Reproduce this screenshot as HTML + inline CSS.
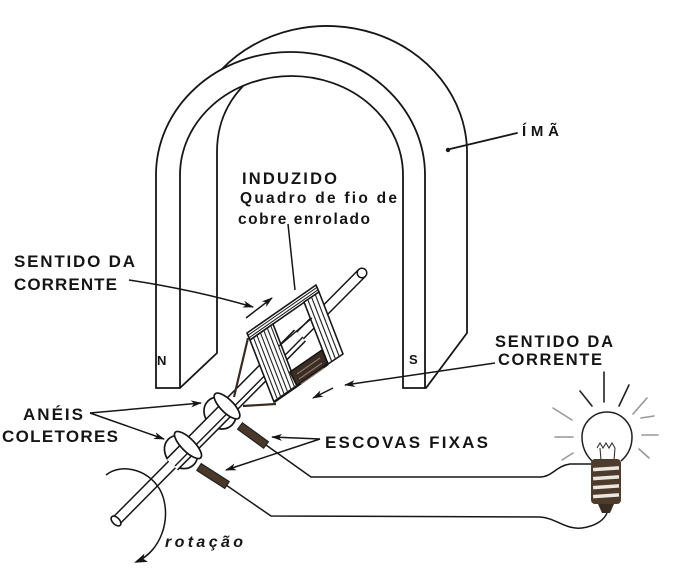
<!DOCTYPE html>
<html><head><meta charset="utf-8"><style>
html,body{margin:0;padding:0;background:#fff;}
svg{display:block;}
text{font-family:"Liberation Sans",sans-serif;font-weight:bold;fill:#151515;}
</style></head><body>
<svg width="687" height="581" viewBox="0 0 687 581" xmlns="http://www.w3.org/2000/svg">
<defs>
<marker id="ah" markerUnits="userSpaceOnUse" markerWidth="11" markerHeight="7" refX="10" refY="3.5" orient="auto" viewBox="0 0 11 7"><path d="M0,0 L11,3.5 L0,7 L3,3.5 z" fill="#151515"/></marker>
<marker id="ah2" markerUnits="userSpaceOnUse" markerWidth="13" markerHeight="9" refX="11" refY="4.5" orient="auto" viewBox="0 0 13 9"><path d="M0,0 L13,4.5 L0,9 L3,4.5 z" fill="#151515"/></marker>
</defs>
<rect width="687" height="581" fill="#fff"/>

<!-- magnet -->
<g fill="none" stroke="#161616" stroke-width="1.8" stroke-linejoin="round" stroke-linecap="round">
<path d="M156,388 L156,175 A134.5,123 0 0 1 425,175 L425,388"/>
<path d="M180,388 L180,175 A111.5,99 0 0 1 403,175 L403,388"/>
<path d="M156,388 L180,388 M403,388 L425,388"/>
<path d="M222,69 A140,127 0 0 1 467,150 L467,333 L426,388"/>
<path d="M243,86 C226,104 217,125 217,152 L217,353 L181,387"/>
<line x1="450" y1="149" x2="517" y2="133"/>
</g>
<circle cx="448" cy="150" r="2.2" fill="#161616"/>

<!-- ring disks -->
<g fill="#fff" stroke="#161616" stroke-width="1.7">
<ellipse cx="220" cy="413" rx="17" ry="15" transform="rotate(45 220 413)"/>
<ellipse cx="181" cy="452" rx="18" ry="15" transform="rotate(45 181 452)"/>
</g>

<!-- shaft -->
<line x1="116" y1="521" x2="362" y2="273" stroke="#161616" stroke-width="11"/>
<line x1="116" y1="521" x2="362" y2="273" stroke="#fff" stroke-width="8"/>
<circle cx="362" cy="273" r="5.5" fill="#161616"/>
<circle cx="362" cy="273" r="4" fill="#fff"/>
<ellipse cx="116" cy="521" rx="6" ry="3.5" transform="rotate(45 116 521)" fill="#fff" stroke="#161616" stroke-width="1.6"/>
<!-- sleeve -->
<line x1="172" y1="464.5" x2="300" y2="335.5" stroke="#161616" stroke-width="17"/>
<line x1="172" y1="464.5" x2="300" y2="335.5" stroke="#fff" stroke-width="14"/>
<line x1="175" y1="466" x2="303" y2="337" stroke="#161616" stroke-width="1.4"/>

<!-- ring bands -->
<g fill="#fff" stroke="#161616" stroke-width="1.7">
<ellipse cx="227" cy="406" rx="17" ry="6.5" transform="rotate(45 227 406)"/>
<ellipse cx="188" cy="445" rx="18" ry="6.5" transform="rotate(45 188 445)"/>
</g>

<!-- brushes -->
<g fill="#4a382b" stroke="#222" stroke-width="1.2">
<polygon points="242.4,422.8 268.4,441.8 263.6,448.2 237.6,429.2"/>
<polygon points="201.2,463.6 229.2,481.6 224.8,488.4 196.8,470.4"/>
</g>

<!-- leads coil -> ring -->
<g stroke="#3a2c22" stroke-width="2.2" fill="none">
<path d="M248,338 L234,397"/>
<path d="M276,404 L243,406"/>
</g>

<!-- wires -->
<g fill="none" stroke="#161616" stroke-width="1.5">
<path d="M266,445 L311,477 L540,477 C552,477 556,466 570,464 L592,464"/>
<path d="M226,485 L271,516 L540,517 C556,518 566,530 582,528 C596,526 604,520 607,513"/>
</g>

<!-- coil -->
<g stroke="#161616" stroke-width="1.6" stroke-linejoin="round">
<polygon points="247,333 316,285 319,292 250,340" fill="#fff"/>
<polygon points="250,340 273,324 297,386 274,402" fill="#fff"/>
<polygon points="304,302 319,292 343,354 328,364" fill="#fff"/>
<polygon points="290,372 322,350 328,364 297,386" fill="#3b2d24"/>
<line x1="297" y1="386" x2="328" y2="364" stroke-width="2.5"/>
<line x1="274" y1="402" x2="297" y2="386" stroke-width="2.5"/>
</g>
<!-- inner bar visible in opening -->
<g stroke="#161616" stroke-width="1.4">
<line x1="279" y1="346" x2="312" y2="318"/>
</g>
<g stroke="#222" stroke-width="1.1">
<line x1="248" y1="335.3" x2="317" y2="287.3"/>
<line x1="249" y1="337.8" x2="318" y2="289.8"/>
<line x1="253.5" y1="337.6" x2="277.5" y2="399.6"/>
<line x1="256.9" y1="335.2" x2="280.9" y2="397.2"/>
<line x1="260.4" y1="332.8" x2="284.4" y2="394.8"/>
<line x1="263.8" y1="330.4" x2="287.8" y2="392.4"/>
<line x1="267.3" y1="328" x2="291.3" y2="390"/>
<line x1="270.7" y1="325.6" x2="294.7" y2="387.6"/>
<line x1="307.75" y1="299.5" x2="331.75" y2="361.5"/>
<line x1="311.5" y1="297" x2="335.5" y2="359"/>
<line x1="315.25" y1="294.5" x2="339.25" y2="356.5"/>
<line x1="297" y1="374" x2="320" y2="358" stroke="#8a7a6c"/>
<line x1="299" y1="379" x2="322" y2="363" stroke="#8a7a6c"/>
<line x1="301" y1="384" x2="324" y2="368" stroke="#8a7a6c"/>
</g>

<!-- leaders & arrows -->
<g fill="none" stroke="#161616" stroke-width="1.5">
<path d="M288,224 L295,290"/>
<path d="M129,280 Q195,290 253,307" marker-end="url(#ah)"/>
<path d="M246,318 L272,298" marker-end="url(#ah)"/>
<path d="M495,363 L345,385" marker-end="url(#ah)"/>
<path d="M333,388 L313,398" marker-end="url(#ah)"/>
<path d="M90,413 L201,403" marker-end="url(#ah)"/>
<path d="M90,413 L164,439" marker-end="url(#ah)"/>
<path d="M320,439 L272,437" marker-end="url(#ah)"/>
<path d="M320,439 L226,470" marker-end="url(#ah)"/>
<path d="M106,475 C122,462 152,470 162,494 C172,520 160,552 136,562" marker-end="url(#ah2)"/>
</g>

<!-- bulb -->
<g stroke-width="1.6" stroke-linecap="round">
<line x1="604" y1="372" x2="604" y2="402" stroke="#222"/>
<line x1="580" y1="391" x2="592" y2="406" stroke="#222"/>
<line x1="629" y1="385" x2="619" y2="406" stroke="#222"/>
<line x1="647" y1="398" x2="633" y2="414" stroke="#999"/>
<line x1="553" y1="408" x2="572" y2="420" stroke="#999"/>
<line x1="555" y1="437" x2="573" y2="437" stroke="#999"/>
<line x1="642" y1="435" x2="658" y2="435" stroke="#999"/>
<line x1="562" y1="460" x2="573" y2="453" stroke="#999"/>
<line x1="639" y1="449" x2="649" y2="458" stroke="#999"/>
<line x1="641" y1="418" x2="654" y2="416" stroke="#999"/>
</g>
<path d="M592,461 C586,455 582,447 582,437 A25,25 0 1 1 632,437 C632,447 628,455 621,461" fill="#fff" stroke="#222" stroke-width="1.5"/>
<g fill="none" stroke="#333" stroke-width="1.1">
<path d="M601,460 L600,448 M614,460 L615,448"/>
<path d="M597,448 l3,-5 l3,5 l3,-5 l3,5 l3,-5 l3,5"/>
</g>
<rect x="591" y="459" width="30" height="45" rx="4" fill="#4d3b2e"/>
<g fill="#ece6de">
<rect x="593" y="467" width="26" height="3.5" transform="rotate(-4 606 468)"/>
<rect x="593" y="476" width="26" height="3.5" transform="rotate(-4 606 477)"/>
<rect x="593" y="485" width="26" height="3.5" transform="rotate(-4 606 486)"/>
<rect x="593" y="494" width="26" height="3.5" transform="rotate(-4 606 495)"/>
</g>
<path d="M598,504 L614,504 L610,513 L602,513 z" fill="#3a2c22"/>

<!-- labels -->
<text x="522" y="136" font-size="15" textLength="37" lengthAdjust="spacing">ÍMÃ</text>
<text x="157" y="365" font-size="13">N</text>
<text x="409" y="364" font-size="13">S</text>
<text x="242" y="184" font-size="16.5" textLength="95" lengthAdjust="spacing">INDUZIDO</text>
<text x="240" y="203" font-size="15.5" textLength="157" lengthAdjust="spacing">Quadro de fio de</text>
<text x="238" y="224" font-size="15.5" textLength="132" lengthAdjust="spacing">cobre enrolado</text>
<text x="14" y="267" font-size="17" textLength="121" lengthAdjust="spacing">SENTIDO DA</text>
<text x="14" y="290" font-size="17" textLength="103" lengthAdjust="spacing">CORRENTE</text>
<text x="495" y="347" font-size="16.5" textLength="118" lengthAdjust="spacing">SENTIDO DA</text>
<text x="498" y="365" font-size="16.5" textLength="104" lengthAdjust="spacing">CORRENTE</text>
<text x="23" y="420" font-size="17" textLength="60" lengthAdjust="spacing">ANÉIS</text>
<text x="2" y="442" font-size="17" textLength="116" lengthAdjust="spacing">COLETORES</text>
<text x="325" y="448" font-size="17" textLength="163" lengthAdjust="spacing">ESCOVAS FIXAS</text>
<text x="165" y="547" font-size="16" font-style="italic" textLength="78" lengthAdjust="spacing">rotação</text>
</svg>
</body></html>
